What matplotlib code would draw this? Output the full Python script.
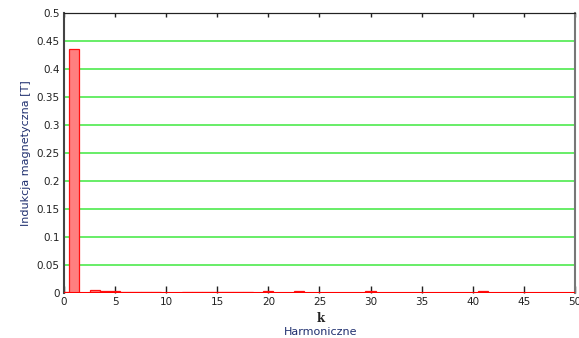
import matplotlib
matplotlib.use("Agg")
import matplotlib.pyplot as plt
import numpy as np

# harmonic orders and amplitudes of flux density
harm_k = [0, 1, 3, 4, 5, 6, 7, 8, 9, 12, 13, 14, 15, 16, 17, 18, 20, 23, 30, 41]
b_amp = [0.002, 0.435, 0.006, 0.0045, 0.0045, 0.002, 0.002, 0.002, 0.002,
         0.002, 0.002, 0.002, 0.002, 0.002, 0.002, 0.002, 0.003, 0.003, 0.003, 0.003]

x_ticks = np.arange(0, 51, 5)
y_ticks = np.arange(0, 0.501, 0.05)

fig = plt.figure(figsize=(5.79, 3.38), dpi=100)
ax = fig.add_axes([0.1105, 0.133, 0.8825, 0.8285])

ax.bar(harm_k, b_amp, width=1.0, color="#ff7f7f", edgecolor="#ff1010",
       linewidth=0.9, zorder=3)
ax.axhline(0, color="#ff0000", linewidth=1.5, zorder=4)

# horizontal grid only
for yv in y_ticks[1:-1]:
    ax.axhline(yv, color="#3ee83e", linewidth=1.1, zorder=1)

ax.set_xlim(0, 50)
ax.set_ylim(0, 0.5)
ax.set_xticks(x_ticks)
ax.set_yticks(y_ticks)
ax.set_yticklabels(["0", "0.05", "0.1", "0.15", "0.2", "0.25", "0.3",
                    "0.35", "0.4", "0.45", "0.5"])
ax.tick_params(axis="x", which="major", direction="in", length=5, width=1,
               labelsize=7.5, colors="#222222", pad=3)
ax.tick_params(axis="y", direction="in", length=0, labelsize=7.5,
               colors="#222222", pad=3)

# short ticks along the top edge
top = ax.secondary_xaxis("top")
top.set_xticks(x_ticks)
top.tick_params(direction="in", length=3, width=1, labeltop=False,
                colors="#222222")
top.spines["top"].set_color("#222222")

ax.spines["top"].set_color("#222222")
ax.spines["left"].set_color("#444444")
ax.spines["left"].set_linewidth(1.5)
ax.spines["right"].set_color("#777777")
ax.spines["right"].set_linewidth(1.5)
ax.spines["bottom"].set_visible(False)

ax.set_ylabel("Indukcja magnetyczna [T]", fontsize=8, color="#1f2f6f",
              labelpad=4)

fig.text(0.5545, 0.058, "k", ha="center", va="center", fontsize=8.5,
         family="DejaVu Serif", weight="bold", color="#222222")
fig.text(0.5545, 0.018, "Harmoniczne", ha="center", va="center",
         fontsize=8, color="#1f2f6f")

fig.savefig("out.png", dpi=100)
